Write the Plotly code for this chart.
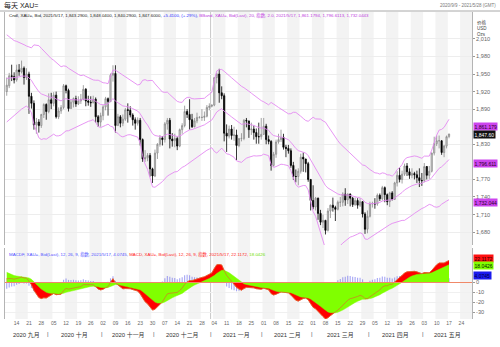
import numpy as np
import pandas as pd
import plotly.graph_objects as go

# ---------------- data ----------------
# closes before the first visible candle (2020-06-01 .. 2020-09-07), only used to seed the indicators
warmup_closes = [
    1740, 1727, 1699, 1714, 1684, 1697, 1715, 1737, 1728, 1730, 1726, 1727, 1727, 1722, 1743, 1754, 1768, 1761, 1763, 1771, 1772, 1781,
    1770, 1775, 1775, 1784, 1795, 1810, 1803, 1798, 1802, 1810, 1808, 1796, 1810, 1818, 1842, 1871, 1888, 1902, 1941, 1958, 1970, 1958, 1975,
    1976, 2019, 2038, 2063, 2035, 2028, 1911, 1915, 1954, 1944, 1985, 2002, 1930, 1947, 1940, 1929, 1906, 1954, 1930, 1964, 1968,
    1970, 1943, 1930, 1934, 1932,
]

# daily candles 2020-09-08 .. 2021-05-17 (weekdays)
opens = [
    # Sep
    1920, 1930, 1947, 1946, 1940, 1957, 1954, 1960, 1944, 1950, 1912, 1900, 1863, 1868, 1862, 1881, 1898,
    # Oct
    1886, 1906, 1900, 1914, 1877, 1887, 1893, 1930, 1922, 1891, 1902, 1908, 1899, 1904, 1907, 1924, 1904, 1902, 1901, 1907, 1877, 1868,
    # Nov
    1879, 1894, 1908, 1903, 1948, 1951, 1862, 1877, 1866, 1873, 1889, 1888, 1880, 1872, 1866, 1871, 1838, 1805, 1807, 1811, 1788,
    # Dec
    1776, 1815, 1830, 1841, 1838, 1865, 1871, 1839, 1836, 1840, 1827, 1855, 1862, 1886, 1881, 1872, 1860, 1870, 1876, 1876, 1876, 1878, 1893,
    # Jan
    1895, 1897, 1944, 1950, 1918, 1913, 1849, 1844, 1856, 1845, 1846, 1828, 1840, 1840, 1871, 1870, 1855, 1856, 1850, 1843, 1843,
    # Feb
    1847, 1861, 1838, 1835, 1794, 1813, 1834, 1838, 1842, 1825, 1823, 1819, 1794, 1775, 1775, 1784, 1808, 1805, 1797, 1770,
    # Mar
    1734, 1723, 1738, 1712, 1697, 1700, 1683, 1716, 1726, 1722, 1719, 1731, 1731, 1745, 1735, 1745, 1738, 1727, 1734, 1726, 1732, 1711, 1685,
    # Apr
    1707, 1728, 1729, 1728, 1743, 1737, 1756, 1744, 1732, 1747, 1736, 1764, 1777, 1770, 1779, 1793, 1783, 1777, 1780, 1778, 1773, 1768,
    # May
    1768, 1792, 1777, 1784, 1815, 1831, 1836, 1836, 1816, 1827, 1843.29,
]
highs = [
    1944, 1952, 1966, 1953, 1966, 1967, 1973, 1963, 1960, 1954, 1918, 1905, 1875, 1873, 1882, 1900, 1900,
    1917, 1918, 1919, 1920, 1893, 1897, 1933, 1932, 1925, 1907, 1910, 1913, 1912, 1916, 1931, 1926, 1913, 1912, 1913, 1910, 1880, 1884,
    1897, 1911, 1910, 1951, 1965, 1965, 1882, 1880, 1881, 1892, 1900, 1895, 1883, 1876, 1876, 1875, 1840, 1820, 1815, 1815, 1790,
    1821, 1832, 1846, 1844, 1868, 1875, 1875, 1849, 1848, 1843, 1857, 1866, 1896, 1890, 1907, 1882, 1875, 1884, 1878, 1890, 1886, 1897, 1900,
    1898, 1944, 1952, 1959, 1929, 1917, 1864, 1862, 1863, 1860, 1855, 1840, 1849, 1873, 1875, 1870, 1867, 1862, 1857, 1867, 1875,
    1875, 1865, 1845, 1837, 1817, 1838, 1848, 1855, 1848, 1829, 1829, 1823, 1800, 1787, 1789, 1814, 1816, 1805, 1800, 1770,
    1760, 1740, 1739, 1718, 1710, 1701, 1721, 1727, 1739, 1725, 1734, 1740, 1748, 1755, 1746, 1746, 1740, 1739, 1738, 1738, 1733, 1714, 1717,
    1732, 1732, 1738, 1746, 1746, 1759, 1758, 1746, 1749, 1750, 1766, 1784, 1790, 1785, 1797, 1798, 1789, 1789, 1783, 1785, 1789, 1781,
    1798, 1793, 1793, 1816, 1843, 1845, 1845, 1837, 1829, 1845, 1848.04,
]
lows = [
    1913, 1926, 1938, 1934, 1937, 1947, 1951, 1932, 1940, 1882, 1891, 1855, 1848, 1850, 1858, 1875, 1872,
    1883, 1890, 1895, 1874, 1873, 1882, 1890, 1917, 1886, 1891, 1893, 1894, 1897, 1899, 1905, 1895, 1896, 1894, 1900, 1867, 1860, 1860,
    1871, 1888, 1879, 1902, 1937, 1850, 1862, 1859, 1861, 1870, 1867, 1876, 1862, 1855, 1862, 1828, 1800, 1800, 1801, 1775, 1764,
    1774, 1805, 1826, 1828, 1833, 1855, 1823, 1826, 1825, 1820, 1825, 1848, 1859, 1875, 1855, 1858, 1859, 1866, 1874, 1870, 1870, 1876, 1888,
    1893, 1895, 1934, 1901, 1907, 1835, 1817, 1840, 1838, 1836, 1803, 1825, 1835, 1837, 1859, 1841, 1846, 1838, 1831, 1831, 1838,
    1846, 1830, 1830, 1785, 1792, 1807, 1831, 1834, 1821, 1808, 1814, 1790, 1769, 1765, 1760, 1780, 1783, 1782, 1766, 1717,
    1719, 1717, 1701, 1692, 1687, 1676, 1681, 1704, 1715, 1699, 1717, 1723, 1724, 1725, 1728, 1724, 1723, 1725, 1720, 1723, 1705, 1677, 1678,
    1705, 1722, 1720, 1725, 1733, 1734, 1731, 1726, 1723, 1734, 1735, 1758, 1765, 1763, 1776, 1776, 1771, 1772, 1770, 1764, 1757, 1759,
    1765, 1770, 1771, 1782, 1811, 1827, 1823, 1812, 1808, 1823, 1840.29,
]
closes = [
    1931, 1947, 1946, 1940, 1957, 1954, 1960, 1944, 1950, 1912, 1900, 1863, 1868, 1862, 1881, 1898, 1886,
    1906, 1900, 1914, 1877, 1887, 1893, 1930, 1922, 1891, 1902, 1908, 1899, 1904, 1907, 1924, 1904, 1902, 1901, 1907, 1877, 1868, 1879,
    1894, 1908, 1903, 1948, 1951, 1862, 1877, 1866, 1873, 1889, 1888, 1880, 1872, 1866, 1871, 1838, 1805, 1807, 1811, 1788, 1776,
    1815, 1830, 1841, 1838, 1865, 1871, 1839, 1836, 1840, 1827, 1855, 1862, 1886, 1881, 1872, 1860, 1870, 1876, 1876, 1876, 1878, 1893, 1895,
    1897, 1944, 1950, 1918, 1913, 1849, 1844, 1856, 1845, 1846, 1828, 1840, 1840, 1871, 1870, 1855, 1856, 1850, 1843, 1843, 1847,
    1861, 1838, 1835, 1794, 1813, 1834, 1838, 1842, 1825, 1823, 1819, 1794, 1775, 1775, 1784, 1808, 1805, 1797, 1770, 1734,
    1723, 1738, 1712, 1697, 1700, 1683, 1716, 1726, 1722, 1719, 1731, 1731, 1745, 1735, 1745, 1738, 1727, 1734, 1726, 1732, 1711, 1685, 1707,
    1728, 1729, 1728, 1743, 1737, 1756, 1744, 1732, 1747, 1736, 1764, 1777, 1770, 1779, 1793, 1783, 1777, 1780, 1778, 1773, 1768, 1768,
    1792, 1777, 1784, 1815, 1831, 1836, 1836, 1816, 1827, 1843, 1847.60,
]

# last values shown in the legends / axis tags
bband_last = [1861.1794, 1796.6113, 1732.0443]   # upper, middle, lower
macd_last = [22.1172, 18.0426, 4.0745]           # MACD, signal, MACDF

month_labels = ["2020 九月", "2020 十月", "2020 十一月", "2020 十二月", "2021 一月",
                "2021 二月", "2021 三月", "2021 四月", "2021 五月"]
# ticks that remain visible (1,800 and 1,860 sit under the value tags)
price_ticks = [1680, 1710, 1740, 1770, 1830, 1890, 1920, 1950, 1980, 2010]
macd_ticks = [-30, -20, -10, 0]

title_text = "每天 XAU="
range_text = "2020/9/9 - 2021/5/28 (GMT)"

# ---------------- derived ----------------
axis_dates = pd.bdate_range("2020-09-08", "2021-05-28")
n = len(closes)
assert len(opens) == n and len(highs) == n and len(lows) == n
idx = np.arange(n)

allc = pd.Series(list(warmup_closes) + list(closes), dtype=float)
w = len(warmup_closes)
mid = allc.ewm(span=20, adjust=False).mean()
var = ((allc - mid) ** 2).ewm(span=20, adjust=False).mean()
sd = np.sqrt(var)
bb_mid = mid.values[w:]
bb_up = (mid + 2 * sd).values[w:]
bb_lo = (mid - 2 * sd).values[w:]

ema12 = allc.ewm(span=12, adjust=False).mean()
ema26 = allc.ewm(span=26, adjust=False).mean()
macd_all = ema12 - ema26
sig_all = macd_all.ewm(span=9, adjust=False).mean()
macd = macd_all.values[w:]
signal = sig_all.values[w:]
hist = macd - signal

# ---------------- geometry helpers (pixels -> paper) ----------------
L, R, T, B = 5, 472, 12, 319
def xp(px): return (px - L) / (R - L)
def yp(py): return (B - py) / (B - T)

XMIN, XMAX = -0.7, 188.3
FONT = "Liberation Sans, Noto Sans CJK SC, sans-serif"

fig = go.Figure()

# MACD panel
fig.add_trace(go.Scatter(x=idx, y=macd, yaxis="y2", mode="lines",
                         line=dict(width=0.5, color="#ff0000"),
                         fill="tozeroy", fillcolor="#ff0000", hoverinfo="skip"))
fig.add_trace(go.Scatter(x=idx, y=signal, yaxis="y2", mode="lines",
                         line=dict(width=0.5, color="#80ff00"),
                         fill="tozeroy", fillcolor="#80ff00", hoverinfo="skip"))
fig.add_trace(go.Bar(x=idx, y=hist, yaxis="y2", width=0.45,
                     marker=dict(color="rgba(80,80,235,0.5)", line=dict(width=0))))
fig.add_trace(go.Scatter(x=idx, y=macd, yaxis="y2", mode="lines",
                         line=dict(width=0.7, color="#d8702a")))

# Bollinger bands
for band in (bb_up, bb_mid, bb_lo):
    fig.add_trace(go.Scatter(x=idx, y=band, yaxis="y", mode="lines",
                             line=dict(width=0.9, color="#e48af2")))

# Candles
fig.add_trace(go.Candlestick(
    x=idx, open=opens, high=highs, low=lows, close=closes, yaxis="y",
    whiskerwidth=0,
    increasing=dict(line=dict(color="#8c8c8c", width=0.8), fillcolor="#d6d6d6"),
    decreasing=dict(line=dict(color="#000000", width=0.8), fillcolor="#000000"),
))

shapes = []
# weekly alternating stripes
mondays = [i for i, d in enumerate(axis_dates) if d.weekday() == 0]
for k, m in enumerate(mondays):
    if k % 2 == 0:
        shapes.append(dict(type="rect", xref="x", yref="paper",
                           x0=m - 0.5, x1=min(m + 4.5, XMAX), y0=0, y1=1,
                           fillcolor="#f3f3f3", line=dict(width=0), layer="below"))
# year boundary
ny = [i for i, d in enumerate(axis_dates) if d.year == 2021][0]
shapes.append(dict(type="line", xref="x", yref="paper", x0=ny - 0.5, x1=ny - 0.5,
                   y0=0, y1=1, line=dict(color="#c8c8c8", width=1), layer="below"))
# zero line of MACD
shapes.append(dict(type="line", xref="paper", yref="y2", x0=0, x1=1, y0=0, y1=0,
                   line=dict(color="#f08868", width=1)))
# header rule
shapes.append(dict(type="line", xref="paper", yref="paper", x0=xp(0), x1=xp(500),
                   y0=yp(11), y1=yp(11), line=dict(color="#a8a8a8", width=1)))

ann = []
ann.append(dict(text=title_text, xref="paper", yref="paper", x=xp(2), y=yp(6),
                xanchor="left", yanchor="middle", showarrow=False,
                font=dict(family=FONT, size=7, color="#222")))
ann.append(dict(text=range_text, xref="paper", yref="paper", x=xp(498), y=yp(6),
                xanchor="right", yanchor="middle", showarrow=False,
                font=dict(family=FONT, size=4.5, color="#777")))
legend_price = ("<span style='color:#222'>Cndl, XAU=, Bid, 2021/5/17, 1,843.2900, 1,848.0400, "
                "1,840.2900, 1,847.6000, </span><span style='color:#3030ff'>+5.4100, (+.29%), </span>"
                "<span style='color:#c040e0'>BBand, XAU=, Bid(Last), 20, 指数, 2.0, 2021/5/17, "
                f"{bband_last[0]:,.4f}, {bband_last[1]:,.4f}, {bband_last[2]:,.4f}</span>")
ann.append(dict(text=legend_price, xref="paper", yref="paper", x=xp(7), y=yp(15),
                xanchor="left", yanchor="middle", showarrow=False,
                font=dict(family=FONT, size=4.4)))
legend_macd = (f"<span style='color:#5050ff'>MACDF, XAU=, Bid(Last), 12, 26, 9, 指数, 2021/5/17, {macd_last[2]:.4f}, </span>"
               f"<span style='color:#ff2020'>MACD, XAU=, Bid(Last), 12, 26, 9, 指数, 2021/5/17, {macd_last[0]:.4f}, </span>"
               f"<span style='color:#70e000'>{macd_last[1]:.4f}</span>")
ann.append(dict(text=legend_macd, xref="paper", yref="paper", x=xp(7), y=yp(254),
                xanchor="left", yanchor="middle", showarrow=False,
                font=dict(family=FONT, size=4.4)))
# axis unit labels
ann.append(dict(text="价格<br>USD<br>Ozs", xref="paper", yref="paper", x=xp(475), y=yp(17),
                xanchor="left", yanchor="top", showarrow=False, align="left",
                font=dict(family=FONT, size=4.5, color="#444")))

# value tags on the right axes
def tag(val, text, bg, fg, yref="y", shift=0):
    ann.append(dict(text=text, xref="paper", yref=yref, x=1.0, y=val, xanchor="left",
                    yanchor="middle", showarrow=False, bgcolor=bg, borderpad=0.5,
                    yshift=shift, xshift=1,
                    font=dict(family=FONT, size=5, color=fg)))

tag(bband_last[0], f"{bband_last[0]:,.3f}", "#cc44ee", "#2a002a")
tag(closes[-1], f"{closes[-1]:,.2f}", "#111111", "#ffffff")
tag(bband_last[1], f"{bband_last[1]:,.3f}", "#cc44ee", "#2a002a")
tag(bband_last[2], f"{bband_last[2]:,.3f}", "#cc44ee", "#2a002a", shift=-1)
tag(macd_last[0], f"{macd_last[0]:.4f}", "#ff1010", "#200000", "y2", 2)
tag(macd_last[1], f"{macd_last[1]:.4f}", "#80ff00", "#002000", "y2", -1)
tag(macd_last[2], f"{macd_last[2]:.4f}", "#1a1aee", "#000040", "y2", 3)

# month labels & separators
months = pd.Series(np.arange(len(axis_dates)), index=axis_dates)
groups = list(months.groupby([axis_dates.year, axis_dates.month]))
for k, ((yy, mm), s) in enumerate(groups):
    f, l = s.values[0], s.values[-1]
    x0 = max(f - 0.5, XMIN)
    x1 = min(l + 0.5, XMAX)
    ann.append(dict(text=month_labels[k], xref="x", yref="paper", x=(x0 + x1) / 2, y=yp(335),
                    xanchor="center", yanchor="middle", showarrow=False,
                    font=dict(family=FONT, size=5.9, color="#333")))
    if k > 0:
        ann.append(dict(text="|", xref="x", yref="paper", x=f - 0.5, y=yp(334),
                        xanchor="center", yanchor="middle", showarrow=False,
                        font=dict(family=FONT, size=6, color="#555")))

fig.update_layout(
    width=500, height=347,
    margin=dict(l=L, r=500 - R, t=T, b=347 - B),
    paper_bgcolor="white", plot_bgcolor="white",
    showlegend=False, barmode="overlay", hovermode=False,
    font=dict(family=FONT, size=5, color="#666"),
    xaxis=dict(range=[XMIN, XMAX], anchor="y2", showgrid=False, zeroline=False,
               rangeslider=dict(visible=False),
               tickmode="array", tickvals=mondays,
               ticktext=[axis_dates[m].strftime("%d") for m in mondays],
               tickfont=dict(size=5, color="#666"), ticks="", showline=False),
    yaxis=dict(domain=[yp(245), 1.0], range=[1658, 2056], side="right",
               tickmode="array", tickvals=price_ticks,
               ticktext=[f"{v:,}" for v in price_ticks],
               ticks="outside", ticklen=2, tickcolor="#999",
               tickfont=dict(size=5.6, color="#666"),
               showgrid=True, gridcolor="#ededed", gridwidth=0.6, zeroline=False,
               showline=True, linecolor="#b4b4b4", linewidth=1, mirror=True),
    yaxis2=dict(domain=[0, yp(248)], range=[-37, 35], side="right",
                tickmode="array", tickvals=macd_ticks,
                ticktext=[str(v) for v in macd_ticks],
                ticks="outside", ticklen=2, tickcolor="#999",
                tickfont=dict(size=5.6, color="#666"),
                showgrid=True, gridcolor="#f0f0f0", gridwidth=0.6, zeroline=False,
                showline=True, linecolor="#b4b4b4", linewidth=1, mirror=True),
    shapes=shapes, annotations=ann,
)

fig.write_html("out.html", config={"displayModeBar": False})
